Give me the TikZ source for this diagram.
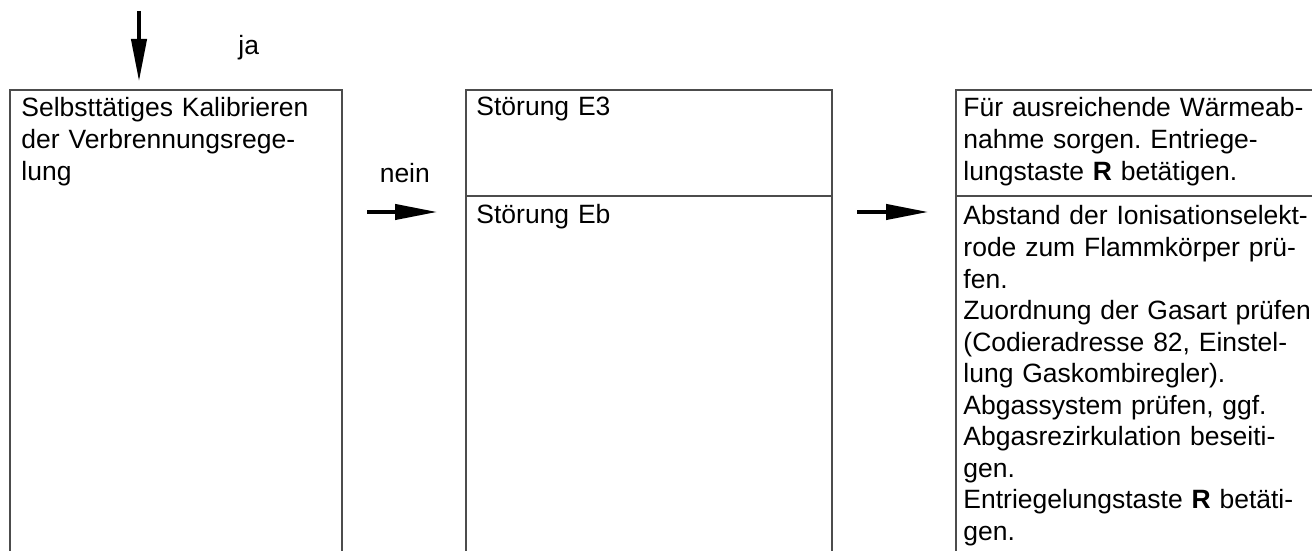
\documentclass[tikz,border=0pt]{standalone}
\usepackage{fontspec}
\setmainfont{Liberation Sans}
\usetikzlibrary{arrows.meta}
\frenchspacing

\begin{document}
\begin{tikzpicture}[
  x=1cm,
  y=1cm,
  line join=miter,
  frame/.style={draw=black!70,line width=0.6pt},
  flow/.style={-{Triangle[length=6.3mm,width=2.3mm]},line width=1.35pt},
  boxtext/.style={anchor=base west,align=left,inner sep=0pt,
    font=\fontsize{11.3}{13.45}\selectfont},
  label/.style={anchor=base west,inner sep=0pt,font=\fontsize{11.3}{13.45}\selectfont}
]
  \useasboundingbox (0,0) rectangle (19.68,8.265);

  % Three columns, open at the bottom of the page
  \draw[frame] (0.15,0) -- (0.15,6.915) -- (5.13,6.915) -- (5.13,0);
  \draw[frame] (6.99,0) -- (6.99,6.915) -- (12.48,6.915) -- (12.48,0);
  \draw[frame] (6.99,5.325) -- (12.48,5.325);
  \draw[frame] (14.34,0) -- (14.34,6.915) -- (19.68,6.915);
  \draw[frame] (14.34,5.325) -- (19.68,5.325);

  % Column texts
  \node[boxtext,text width=4.8cm] (kalib) at (0.315,6.51)
    {Selbsttätiges Kalibrieren\\der Verbrennungsrege-\\lung};
  \node[boxtext,text width=5.2cm] (stoerEthree) at (7.14,6.525) {Störung E3};
  \node[boxtext,text width=5.2cm] (stoerEb) at (7.14,4.905) {Störung Eb};
  \node[boxtext,text width=6.2cm] (waerme) at (14.445,6.51)
    {Für ausreichende Wärmeab-\\nahme sorgen. Entriege-\\lungstaste \textbf{R} betätigen.};
  \node[boxtext,text width=6.2cm] (abstand) at (14.445,4.89)
    {Abstand der Ionisationselekt-\\rode zum Flammkörper prü-\\fen.\\
     Zuordnung der Gasart prüfen\\(Codieradresse 82, Einstel-\\lung Gaskombiregler).\\
     Abgassystem prüfen, ggf.\\Abgasrezirkulation beseiti-\\gen.\\
     Entriegelungstaste \textbf{R} betäti-\\gen.};

  % Flow arrows
  \coordinate (jastart) at (2.085,8.1);
  \coordinate (jaend) at (2.085,7.05);
  \draw[flow] (jastart) -- (jaend);
  \node[label] (ja) at (3.57,7.44) {ja};

  \coordinate (neinstart) at (5.505,5.085);
  \coordinate (neinend) at (6.555,5.085);
  \draw[flow] (neinstart) -- (neinend);
  \node[label] (nein) at (5.69,5.52) {nein};

  \coordinate (ebstart) at (12.855,5.085);
  \coordinate (ebend) at (13.92,5.085);
  \draw[flow] (ebstart) -- (ebend);

\end{tikzpicture}
\end{document}
